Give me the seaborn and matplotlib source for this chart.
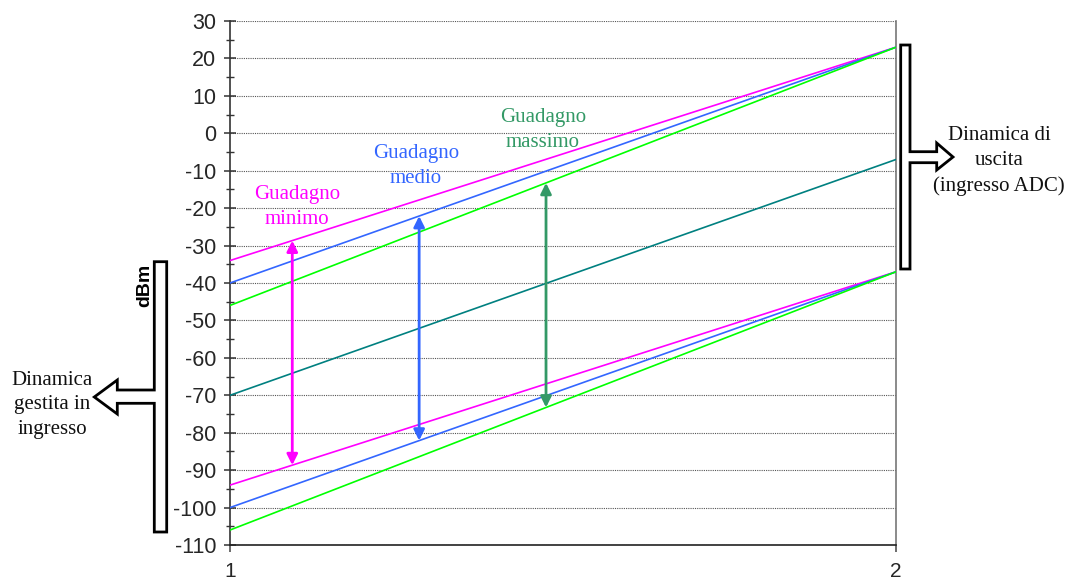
import numpy as np
import pandas as pd
import seaborn as sns
import matplotlib.pyplot as plt
from matplotlib.patches import Polygon
from matplotlib.ticker import MultipleLocator

W, H = 1071, 585

x_vals = [1, 2]
upper_min = [-34, 23]
upper_med = [-40, 23]
upper_max = [-46, 23]
lower_min = [-94, -37]
lower_med = [-100, -37]
lower_max = [-106, -37]
reference = [-70, -7]

arrow_x = {"min": 1.0935, "med": 1.284, "max": 1.4745}
gain_labels = {"min": "Guadagno\nminimo", "med": "Guadagno\nmedio", "max": "Guadagno\nmassimo"}
y_ticks = list(range(-110, 31, 10))
x_ticks = [1, 2]

MAGENTA = "#ff00ff"
BLUE = "#3366ff"
LIME = "#00ff00"
TEAL = "#008080"
SEA = "#339966"

sns.set_theme(style="white")
plt.rcParams["font.family"] = ["Liberation Sans", "DejaVu Sans"]
plt.rcParams["axes.unicode_minus"] = False


def px(x, y):
    return (x / W, 1 - y / H)


fig = plt.figure(figsize=(W / 100, H / 100), dpi=100)
ax = fig.add_axes([230 / W, 1 - 545 / H, 666 / W, 524 / H])

series = [
    (upper_min, MAGENTA), (upper_med, BLUE), (upper_max, LIME),
    (lower_min, MAGENTA), (lower_med, BLUE), (lower_max, LIME),
    (reference, TEAL),
]
for vals, col in series:
    df = pd.DataFrame({"x": x_vals, "y": vals})
    sns.lineplot(data=df, x="x", y="y", color=col, lw=1.2, ax=ax, zorder=3)

ax.set_xlim(1, 2)
ax.set_ylim(-110, 30)
ax.set_xticks(x_ticks)
ax.set_yticks(y_ticks)
ax.yaxis.set_minor_locator(MultipleLocator(5))
ax.set_xlabel("")
ax.set_ylabel("")
ax.grid(axis="y", which="major", ls=(0, (1, 1)), lw=0.8, color="#555555")
ax.grid(axis="x", visible=False)

ax.spines["top"].set_visible(False)
ax.spines["left"].set_color("#333333")
ax.spines["bottom"].set_color("#222222")
ax.spines["right"].set_color("#777777")
for s in ax.spines.values():
    s.set_linewidth(1.2)

ax.tick_params(axis="y", which="major", direction="inout", length=8, width=1.1,
               color="#333333", labelsize=15.5, pad=6, left=True)
ax.tick_params(axis="y", which="minor", direction="inout", length=6, width=1.0,
               color="#333333", left=True)
ax.tick_params(axis="x", which="major", direction="out", length=5, width=1.1,
               color="#444444", labelsize=15, pad=7.5, bottom=True)

# double arrows for each gain
pairs = {"min": (upper_min, lower_min, MAGENTA),
         "med": (upper_med, lower_med, BLUE),
         "max": (upper_max, lower_max, SEA)}
for key, (up, lo, col) in pairs.items():
    xa = arrow_x[key]
    y_top = np.interp(xa, x_vals, up)
    y_bot = np.interp(xa, x_vals, lo)
    ax.annotate("", xy=(xa, y_top), xytext=(xa, y_bot),
                arrowprops=dict(arrowstyle="<|-|>", color=col, lw=2,
                                mutation_scale=16, shrinkA=0, shrinkB=0),
                zorder=4)

serif = ["Liberation Serif", "DejaVu Serif"]
text_kw = dict(family=serif, fontsize=15, ha="center", va="center", linespacing=1.4)
fig.text(*px(297, 207), gain_labels["min"], color=MAGENTA, **text_kw)
fig.text(*px(416, 166), gain_labels["med"], color=BLUE, **text_kw)
fig.text(*px(543, 130), gain_labels["max"], color=SEA, **text_kw)

# right bracket
right_pts = [(900.7, 45), (910, 45), (910, 151.7), (936.7, 151.7), (936.7, 143),
             (953, 157), (936.7, 170), (936.7, 162.7), (910, 162.7), (910, 269),
             (900.7, 269)]
fig.add_artist(Polygon([px(*p) for p in right_pts], closed=True, fill=True,
                       facecolor="white", edgecolor="black", lw=2,
                       transform=fig.transFigure))

# left bracket
left_pts = [(166.7, 261.7), (154.3, 261.7), (154.3, 390), (117.3, 390), (117.3, 380),
            (94.3, 397), (117.3, 414), (117.3, 403.3), (154.3, 403.3), (154.3, 532),
            (166.7, 532)]
fig.add_artist(Polygon([px(*p) for p in left_pts], closed=True, fill=True,
                       facecolor="white", edgecolor="black", lw=2,
                       transform=fig.transFigure))

fig.text(*px(999, 161), "Dinamica di\nuscita\n(ingresso ADC)", color="#111111", **text_kw)
fig.text(*px(52, 405), "Dinamica\ngestita in\ningresso", color="#111111", **text_kw)
fig.text(*px(145, 285), "dBm", fontsize=14, fontweight="bold", rotation=90,
         ha="center", va="center", color="black")

fig.savefig("out.png", dpi=100)
